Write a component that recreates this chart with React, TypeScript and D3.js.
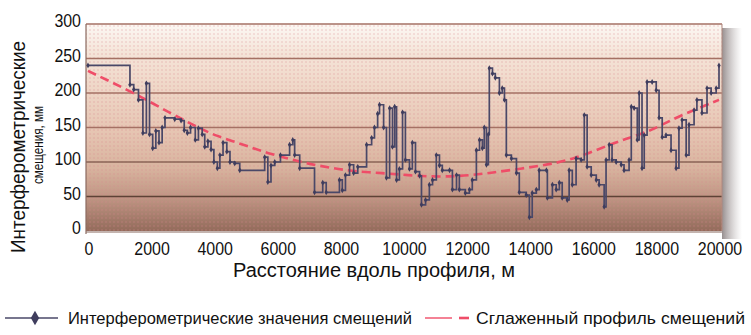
import * as d3 from 'd3';

const xTicks = [0, 2000, 4000, 6000, 8000, 10000, 12000, 14000, 16000, 18000, 20000];
const yTicks = [0, 50, 100, 150, 200, 250, 300];

const xTitle = 'Расстояние вдоль профиля, м';
const yTitleTop = 'Интерферометрические';
const yTitleBottom = 'смещения, мм';
const legendLabels = ['Интерферометрические значения смещений', 'Сглаженный профиль смещений'];

// [distance, m ; displacement, mm]
const measured: [number, number][] = [
  [0, 240], [1330, 212], [1450, 205], [1600, 190], [1740, 142], [1850, 214], [1950, 140],
  [2050, 120], [2150, 145], [2250, 128], [2350, 150], [2440, 164], [2750, 162], [2950, 160],
  [3050, 146], [3150, 142], [3250, 150], [3400, 132], [3500, 149], [3620, 140], [3700, 122],
  [3800, 130], [3900, 118], [3990, 100], [4100, 91], [4180, 110], [4280, 128], [4400, 115],
  [4500, 100], [4650, 98], [4810, 88], [5600, 107], [5700, 71], [5800, 95], [5920, 100],
  [6100, 110], [6390, 125], [6490, 132], [6550, 110], [6710, 91], [7180, 56], [7440, 70],
  [7550, 56], [7970, 74], [8060, 59], [8160, 81], [8290, 96], [8420, 84], [8550, 93],
  [8830, 125], [8990, 135], [9080, 150], [9180, 170], [9240, 183], [9370, 150], [9460, 77],
  [9560, 178], [9650, 122], [9720, 180], [9780, 74], [9870, 90], [9970, 172], [10060, 103],
  [10190, 90], [10280, 128], [10380, 86], [10510, 80], [10570, 38], [10700, 45], [10820, 67],
  [10920, 74], [11040, 110], [11140, 95], [11230, 88], [11460, 88], [11550, 60], [11680, 81],
  [11770, 60], [11960, 55], [12090, 60], [12180, 74], [12310, 117], [12410, 132], [12500, 120],
  [12560, 150], [12630, 96], [12690, 140], [12720, 236], [12820, 228], [12910, 222],
  [13040, 200], [13130, 207], [13200, 190], [13260, 110], [13420, 105], [13580, 84],
  [13670, 56], [13890, 52], [13990, 20], [14080, 55], [14210, 60], [14300, 88], [14530, 88],
  [14560, 48], [14720, 67], [14840, 60], [14940, 70], [15030, 48], [15190, 45], [15250, 88],
  [15350, 67], [15470, 105], [15630, 103], [15730, 168], [15820, 93], [15950, 81], [16110, 74],
  [16200, 67], [16360, 35], [16420, 103], [16520, 125], [16610, 103], [16740, 100],
  [16900, 96], [16990, 88], [17150, 103], [17220, 180], [17310, 178], [17410, 132],
  [17470, 200], [17560, 91], [17630, 139], [17720, 216], [17880, 216], [18010, 204],
  [18100, 164], [18200, 136], [18320, 139], [18480, 117], [18640, 91], [18730, 149],
  [18830, 161], [18960, 110], [19050, 154], [19210, 175], [19300, 190], [19460, 171],
  [19620, 207], [19750, 200], [19910, 207], [20000, 240],
];

const smoothed: [number, number][] = [
  [0, 232], [1420, 201], [2600, 171], [3540, 149], [3990, 139], [5130, 122], [5600, 114],
  [6800, 99], [7750, 91], [8500, 86], [9340, 84], [10090, 81], [11140, 78], [12180, 81],
  [12720, 84], [14300, 94], [15350, 103], [16520, 125], [17150, 135], [17880, 146],
  [18640, 165], [20000, 190],
];

const font = "'Liberation Sans', Arial, sans-serif";

// narrow look: Arial squeezed horizontally
function Narrow({ x, y, size, anchor = 'start', sx = 0.84, children }: any) {
  return (
    <text
      transform={`translate(${x},${y}) scale(${sx},1)`}
      textAnchor={anchor}
      fontSize={size}
      fill="#111"
    >
      {children}
    </text>
  );
}

export default function App() {
  const width = 751;
  const height = 335;
  const plot = { left: 86, right: 722, top: 24, bottom: 231 };

  const x = d3.scaleLinear().domain([0, 20000]).range([plot.left + 2, plot.right - 3]);
  const y = d3.scaleLinear().domain([0, 300]).range([plot.bottom, plot.top]);

  const measuredLine = d3
    .line<[number, number]>()
    .x((d) => x(d[0]))
    .y((d) => y(d[1]))
    .curve(d3.curveStepAfter);

  const smoothLine = d3
    .line<[number, number]>()
    .x((d) => x(d[0]))
    .y((d) => y(d[1]))
    .curve(d3.curveBasis);

  const diamond = d3.symbol().type(d3.symbolDiamond);

  return (
    <svg
      width={width}
      height={height}
      viewBox={`0 0 ${width} ${height}`}
      style={{ position: 'absolute', left: 0, top: 0, background: '#fff' }}
      fontFamily={font}
    >
      <defs>
        <linearGradient id="bg" x1="0" y1="0" x2="0" y2="1">
          <stop offset="0%" stopColor="#fcf8f4" />
          <stop offset="14%" stopColor="#f5e4d8" />
          <stop offset="33%" stopColor="#eed5c5" />
          <stop offset="52%" stopColor="#e6c5b2" />
          <stop offset="70%" stopColor="#d8b39e" />
          <stop offset="84%" stopColor="#bf9583" />
          <stop offset="100%" stopColor="#936b5b" />
        </linearGradient>
        <pattern id="dots" width="4" height="4" patternUnits="userSpaceOnUse">
          <circle cx="2" cy="2" r="0.8" fill="#d9868a" opacity="0.45" />
        </pattern>
        <linearGradient id="shadow" x1="0" y1="0" x2="1" y2="0">
          <stop offset="0%" stopColor="#8b8282" stopOpacity="0.9" />
          <stop offset="100%" stopColor="#bdb6b6" stopOpacity="0" />
        </linearGradient>
      </defs>

      {/* right shadow */}
      <rect x={plot.right} y={plot.top + 4} width={20} height={plot.bottom - plot.top + 4} fill="url(#shadow)" />

      <rect
        x={plot.left}
        y={plot.top}
        width={plot.right - plot.left}
        height={plot.bottom - plot.top}
        fill="url(#bg)"
      />
      <rect
        x={plot.left}
        y={plot.top}
        width={plot.right - plot.left}
        height={plot.bottom - plot.top}
        fill="url(#dots)"
      />

      {yTicks.map((t) => (
        <g key={`y-${t}`}>
          {t > 0 && (
            <line
              x1={plot.left}
              x2={plot.right}
              y1={y(t)}
              y2={y(t)}
              stroke={t === 50 ? '#5e4236' : t === 100 ? '#8a6456' : '#a57164'}
              strokeWidth={1.3}
            />
          )}
          <Narrow x={plot.left - 5} y={y(t) + 3} size={19} anchor="end">
            {t}
          </Narrow>
        </g>
      ))}

      <line x1={plot.left} x2={plot.left} y1={plot.top} y2={plot.bottom + 3} stroke="#8a6a60" strokeWidth={1.2} />
      <line x1={plot.right} x2={plot.right} y1={plot.top} y2={plot.bottom} stroke="#b08a80" strokeWidth={1} />
      <line x1={plot.left} x2={plot.right} y1={plot.bottom + 1} y2={plot.bottom + 1} stroke="#8a6a60" strokeWidth={1.2} />

      {xTicks.map((t) => (
        <Narrow key={`x-${t}`} x={x(t) + 1} y={255} size={19} anchor="middle">
          {t}
        </Narrow>
      ))}

      <path d={smoothLine(smoothed) ?? ''} fill="none" stroke="#ef4d68" strokeWidth={2.6} strokeDasharray="9 5" />

      <path d={measuredLine(measured) ?? ''} fill="none" stroke="#4a4868" strokeWidth={1.7} />
      {measured.map((d, i) => (
        <path
          key={i}
          d={diamond.size(10)() ?? ''}
          transform={`translate(${x(d[0])},${y(d[1])})`}
          fill="#3f3d5e"
        />
      ))}

      <text x={374} y={277} textAnchor="middle" fontSize={20} fill="#111" textLength={282} lengthAdjust="spacingAndGlyphs">
        {xTitle}
      </text>

      <g transform="translate(25,147) rotate(-90)">
        <text textAnchor="middle" fontSize={20} fill="#111" textLength={212} lengthAdjust="spacingAndGlyphs">
          {yTitleTop}
        </text>
      </g>
      <g transform="translate(43,145) rotate(-90)">
        <text textAnchor="middle" fontSize={15} fill="#111" textLength={78} lengthAdjust="spacingAndGlyphs">
          {yTitleBottom}
        </text>
      </g>

      {/* legend */}
      <line x1={5} x2={58} y1={318} y2={318} stroke="#4a4868" strokeWidth={1.4} />
      <path d={diamond.size(60)() ?? ''} transform="translate(35,318)" fill="#3f3d5e" />
      <text x={68} y={324} fontSize={17} fill="#111" textLength={344} lengthAdjust="spacingAndGlyphs">
        {legendLabels[0]}
      </text>
      <line x1={425} x2={452} y1={318} y2={318} stroke="#ef4d68" strokeWidth={1.4} />
      <line x1={459} x2={469} y1={318} y2={318} stroke="#ef4d68" strokeWidth={2.6} />
      <text x={476} y={324} fontSize={17} fill="#111" textLength={269} lengthAdjust="spacingAndGlyphs">
        {legendLabels[1]}
      </text>
    </svg>
  );
}
